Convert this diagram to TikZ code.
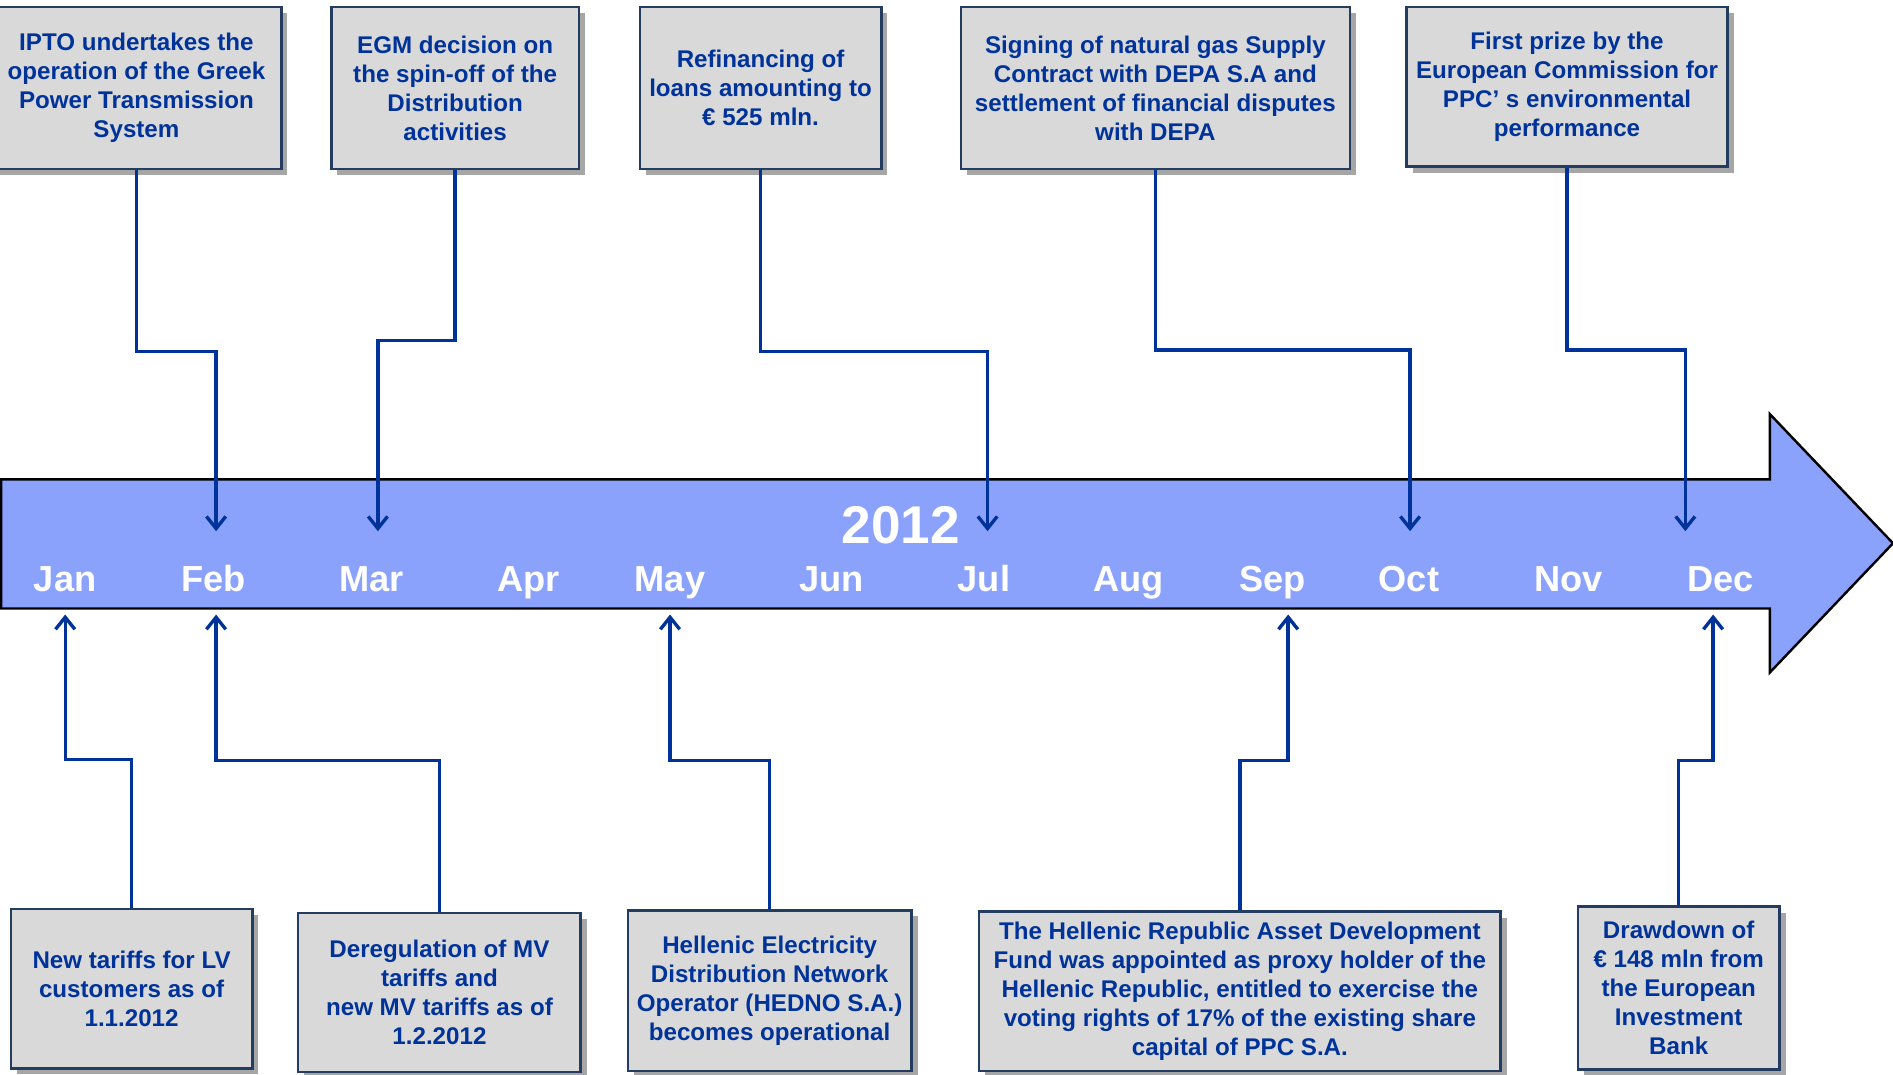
\documentclass[tikz,border=0pt]{standalone}
\usepackage{fontspec}
\setmainfont{Liberation Sans}
\usepackage{xcolor}
\usepackage{tikz}
\usetikzlibrary{arrows.meta,calc,positioning,shadows}
\definecolor{navy}{RGB}{0,51,153}
\definecolor{barfill}{RGB}{139,162,252}
\definecolor{boxfill}{RGB}{217,217,217}
\definecolor{boxline}{RGB}{36,60,96}
\tikzset{
  evbox/.style={draw=boxline, line width=1pt, fill=boxfill, align=center, text=navy,
    font=\fontsize{10}{12}\selectfont\bfseries, inner sep=2pt,
    drop shadow={shadow xshift=2.5pt, shadow yshift=-2.5pt, opacity=0.35, fill=black}},
  link/.style={draw=navy, line width=1.4pt, -{Straight Barb[length=5pt, width=8pt]}},
  month/.style={text=white, anchor=base, font=\fontsize{15}{18}\selectfont\bfseries},
  yearlbl/.style={text=white, anchor=base, font=\fontsize{22}{26}\selectfont\bfseries}
}
\begin{document}
\begin{tikzpicture}[x=0.5pt, y=-0.5pt]
    \useasboundingbox (0,0) rectangle (1568,890);
    % Timeline
    \draw[fill=barfill, line width=1pt] (1,397) -- (1466,397) -- (1466,343) -- (1568,450)
        -- (1466,557) -- (1466,504) -- (1,504) -- cycle;
    \node[yearlbl] (year) at (746,450) {2012};
    \foreach \m/\x in {Jan/54, Feb/177, Mar/308, Apr/438, May/555, Jun/689,
                       Jul/815, Aug/935, Sep/1054, Oct/1167, Nov/1299, Dec/1425}
      \node[month] (\m) at (\x,490) {\m};

    % Arrow tips
    \coordinate (tFeb) at (179,440);
    \coordinate (tMar) at (313,440);
    \coordinate (tJul) at (818,440);
    \coordinate (tOct) at (1168,440);
    \coordinate (tDec) at (1396,440);
    \coordinate (bJan) at (54,509);
    \coordinate (bFeb) at (179,509);
    \coordinate (bMay) at (555,509);
    \coordinate (bSep) at (1067,509);
    \coordinate (bDec) at (1419,509);

    % Nodes (top)
    \node[evbox, minimum width=120pt, minimum height=67pt] (ipto) at (113,73)
        {IPTO undertakes the\\operation of the Greek\\Power Transmission\\System};
    \node[evbox, minimum width=102.5pt, minimum height=67pt] (egm) at (377,73)
        {EGM decision on\\the spin-off of the\\Distribution\\activities};
    \node[evbox, minimum width=100pt, minimum height=67pt] (refin) at (630,73)
        {Refinancing of\\loans amounting to\\€ 525 mln.};
    \node[evbox, minimum width=161pt, minimum height=67pt] (depa) at (957,73)
        {Signing of natural gas Supply\\Contract with DEPA S.A and\\settlement of financial disputes\\with DEPA};
    \node[evbox, minimum width=133pt, minimum height=66pt] (prize) at (1298,72)
        {First prize by the\\European Commission for\\PPC’ s environmental\\performance};

    % Nodes (bottom)
    \node[evbox, minimum width=100pt, minimum height=66pt] (lvtar) at (109,819)
        {New tariffs for LV\\customers as of\\1.1.2012};
    \node[evbox, minimum width=117pt, minimum height=66pt] (mvtar) at (364,822)
        {Deregulation of MV\\tariffs and\\new MV tariffs as of\\1.2.2012};
    \node[evbox, minimum width=117.5pt, minimum height=66.5pt] (hedno) at (637.5,820.5)
        {Hellenic Electricity\\Distribution Network\\Operator (HEDNO S.A.)\\becomes operational};
    \node[evbox, minimum width=216pt, minimum height=66pt] (hradf) at (1027,821)
        {The Hellenic Republic Asset Development\\Fund was appointed as proxy holder of the\\Hellenic Republic, entitled to exercise the\\voting rights of 17\% of the existing share\\capital of PPC S.A.};
    \node[evbox, minimum width=83.5pt, minimum height=67.5pt] (eib) at (1390.5,818.5)
        {Drawdown of\\€ 148 mln from\\the European\\Investment\\Bank};

    % Edges
    \draw[link] (ipto.south) -- (ipto.south |- 0,291) -| (tFeb);
    \draw[link] (egm.south) -- (egm.south |- 0,282) -| (tMar);
    \draw[link] (refin.south) -- (refin.south |- 0,291) -| (tJul);
    \draw[link] (depa.south) -- (depa.south |- 0,290) -| (tOct);
    \draw[link] (prize.south) -- (prize.south |- 0,290) -| (tDec);
    \draw[link] (lvtar.north) -- (lvtar.north |- 0,629) -| (bJan);
    \draw[link] (mvtar.north) -- (mvtar.north |- 0,630) -| (bFeb);
    \draw[link] (hedno.north) -- (hedno.north |- 0,630) -| (bMay);
    \draw[link] (hradf.north) -- (hradf.north |- 0,630) -| (bSep);
    \draw[link] (eib.north) -- (eib.north |- 0,630) -| (bDec);
\end{tikzpicture}
\end{document}
